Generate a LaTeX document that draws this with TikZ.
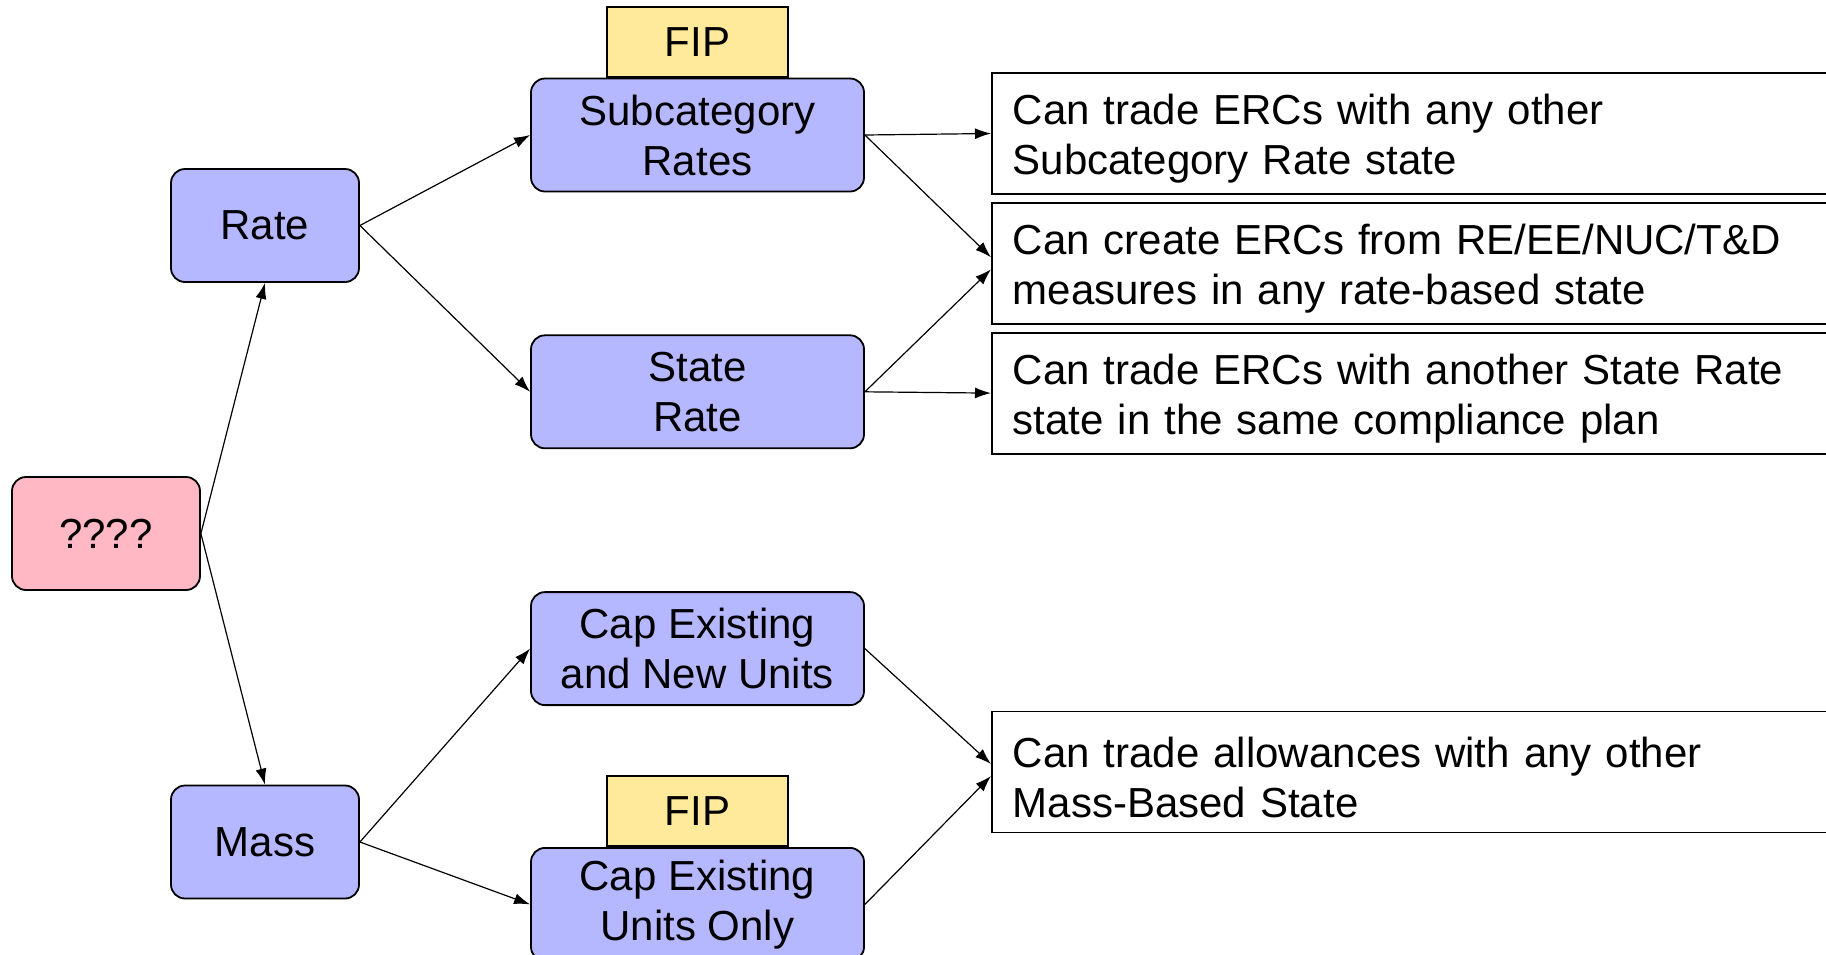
\documentclass[tikz,border=0pt]{standalone}
\usepackage{fontspec}
\setmainfont{Liberation Sans}
\usetikzlibrary{arrows.meta,positioning}
\definecolor{ratefill}{RGB}{182,184,255}
\definecolor{askfill}{RGB}{255,184,196}
\definecolor{fipfill}{RGB}{255,234,155}

\begin{document}
\begin{tikzpicture}[
  x=0.5pt, y=-0.5pt, >={Latex[length=8pt,width=5.5pt]},
  box/.style={draw, line width=0.9pt, rounded corners=7pt, fill=ratefill, align=center,
              font=\fontsize{21}{25}\selectfont, inner sep=0pt, minimum height=56.5pt},
  small/.style={box, minimum width=94pt},
  wide/.style={box, minimum width=166.5pt},
  fip/.style={draw, line width=0.9pt, fill=fipfill, font=\fontsize{21}{25}\selectfont,
              minimum width=90.5pt, minimum height=35pt, inner sep=0pt},
  note/.style={draw, line width=0.9pt, align=left, font=\fontsize{21}{25}\selectfont,
               text width=480pt, inner xsep=10.5pt, inner ysep=0pt, minimum height=60.5pt,
               execute at begin node={\rule{0pt}{20.5pt}}},
  link/.style={->, line width=0.6pt}
]
\clip (0,0) rectangle (1826,954);

% decision tree
\node[small, fill=askfill] (ask) at (106,533.5) {????};
\node[small] (rate) at (265,225.5) {Rate};
\node[small] (mass) at (265,842) {Mass};
\node[wide] (subcat) at (697.5,135) {Subcategory\\Rates};
\node[wide, below=71pt of subcat] (staterate) {State\\Rate};
\node[wide, below=71pt of staterate] (capnew) {Cap Existing\\and New Units};
\node[wide, below=70.5pt of capnew] (caponly) {Cap Existing\\Units Only};
\node[fip, above=0pt of subcat] (fiptop) {FIP};
\node[fip, above=0pt of caponly] (fipbot) {FIP};

% outcomes
\node[note, anchor=west] (n1) at (991,133.5) {Can trade ERCs with any other\\Subcategory Rate state};
\node[note, below=3.5pt of n1] (n2) {Can create ERCs from RE/EE/NUC/T\&D\\measures in any rate-based state};
\node[note, below=3.5pt of n2] (n3) {Can trade ERCs with another State Rate\\state in the same compliance plan};
\node[note, anchor=west] (n4) at (991,772) {Can trade allowances with any other\\Mass-Based State};

\draw[link] (ask.east) -- (rate.south);
\draw[link] (ask.east) -- (mass.north);
\draw[link] (rate.east) -- (subcat.west);
\draw[link] (rate.east) -- (staterate.west);
\draw[link] (mass.east) -- (capnew.west);
\draw[link] (mass.east) -- (caponly.west);
\draw[link] (subcat.east) -- (n1.west);
\draw[link] (subcat.east) -- ([yshift=3pt]n2.west);
\draw[link] (staterate.east) -- ([yshift=-3pt]n2.west);
\draw[link] (staterate.east) -- (n3.west);
\draw[link] (capnew.east) -- ([yshift=4pt]n4.west);
\draw[link] (caponly.east) -- ([yshift=-2pt]n4.west);
\end{tikzpicture}
\end{document}
